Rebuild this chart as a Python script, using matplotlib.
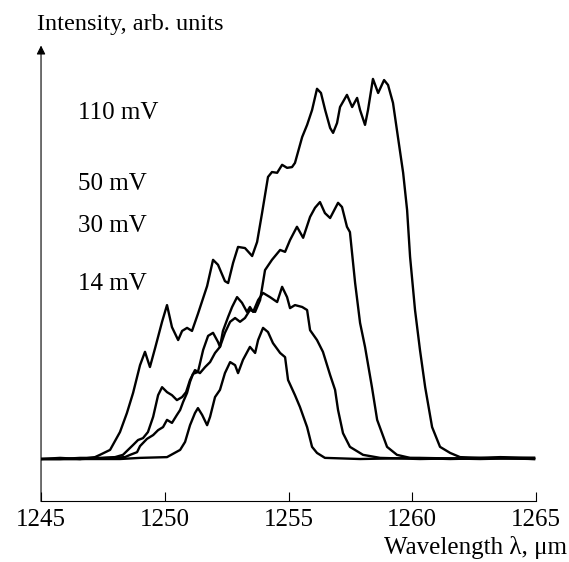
import matplotlib
matplotlib.use("Agg")
import matplotlib.pyplot as plt

plt.rcParams['font.family'] = ['Liberation Serif', 'DejaVu Serif']

# Wavelength (as labelled on axis) and intensity (arb. units) for each bias
wl_110 = [1245.00, 1245.77, 1246.58, 1247.18, 1247.38, 1247.79, 1248.19, 1248.47, 1248.72, 1249.00,
          1249.20, 1249.40, 1249.61, 1249.89, 1250.09, 1250.29, 1250.54, 1250.70, 1250.90, 1251.10,
          1251.34, 1251.71, 1251.95, 1252.15, 1252.43, 1252.56, 1252.76, 1252.96, 1253.24, 1253.53,
          1253.73, 1253.93, 1254.17, 1254.33, 1254.54, 1254.74, 1254.94, 1255.14, 1255.26, 1255.55,
          1255.75, 1255.95, 1256.15, 1256.31, 1256.48, 1256.68, 1256.80, 1256.96, 1257.08, 1257.36,
          1257.57, 1257.77, 1257.89, 1258.09, 1258.21, 1258.41, 1258.62, 1258.86, 1259.02, 1259.22,
          1259.42, 1259.63, 1259.79, 1259.91, 1260.11, 1260.31, 1260.52, 1260.80, 1261.12, 1261.53,
          1261.93, 1262.74, 1263.55, 1264.92]
int_110 = [0.0, 0.3, 0.0, 0.5, 1.1, 2.4, 7.1, 12.1, 17.4, 24.7,
           28.2, 24.2, 29.2, 36.1, 40.5, 34.7, 31.3, 33.7, 34.5, 33.7,
           38.2, 45.5, 52.4, 51.1, 46.8, 46.3, 51.6, 55.8, 55.5, 53.4,
           57.1, 64.7, 74.2, 75.5, 75.3, 77.4, 76.6, 76.8, 77.9, 84.7,
           87.9, 91.8, 97.4, 96.3, 91.8, 87.1, 85.8, 88.4, 92.6, 95.8,
           92.6, 95.0, 91.8, 87.9, 91.8, 100.0, 96.3, 99.7, 98.4, 93.7,
           84.7, 75.3, 65.5, 53.2, 39.2, 28.7, 18.9, 8.4, 3.2, 1.6,
           0.5, 0.3, 0.5, 0.3]

wl_50 = [1245.00, 1245.77, 1246.58, 1247.38, 1247.99, 1248.31, 1248.72, 1248.92, 1249.12, 1249.32,
         1249.53, 1249.73, 1249.89, 1250.09, 1250.29, 1250.49, 1250.70, 1250.86, 1251.02, 1251.22,
         1251.42, 1251.63, 1251.83, 1252.03, 1252.23, 1252.43, 1252.64, 1252.84, 1253.04, 1253.24,
         1253.44, 1253.65, 1253.85, 1254.05, 1254.33, 1254.66, 1254.86, 1255.06, 1255.34, 1255.59,
         1255.87, 1256.07, 1256.27, 1256.47, 1256.68, 1257.00, 1257.16, 1257.36, 1257.48, 1257.69,
         1257.89, 1258.09, 1258.37, 1258.58, 1258.98, 1259.38, 1259.91, 1261.53, 1263.55, 1264.92]
int_50 = [0.0, 0.0, 0.3, 0.3, 0.5, 1.1, 3.7, 5.0, 5.5, 7.1,
          11.1, 16.8, 18.9, 17.6, 16.8, 15.5, 16.3, 17.6, 20.8, 23.4,
          22.6, 24.2, 25.5, 27.9, 29.5, 33.2, 36.1, 37.1, 36.1, 37.1,
          39.2, 38.7, 41.8, 49.7, 52.4, 55.0, 54.5, 57.6, 61.1, 58.2,
          63.7, 66.1, 67.6, 64.7, 63.4, 67.4, 66.3, 61.1, 59.7, 46.3,
          35.8, 29.5, 18.9, 10.3, 3.2, 1.1, 0.3, 0.0, 0.3, 0.0]

wl_30 = [1245.00, 1246.58, 1247.79, 1248.39, 1248.60, 1248.88, 1249.00, 1249.28, 1249.53, 1249.73,
         1249.93, 1250.09, 1250.29, 1250.49, 1250.62, 1250.74, 1250.90, 1251.02, 1251.14, 1251.34,
         1251.55, 1251.75, 1251.95, 1252.15, 1252.23, 1252.35, 1252.56, 1252.72, 1252.92, 1253.12,
         1253.32, 1253.44, 1253.57, 1253.77, 1253.97, 1254.25, 1254.54, 1254.74, 1254.94, 1255.06,
         1255.26, 1255.55, 1255.75, 1255.87, 1256.15, 1256.39, 1256.68, 1256.88, 1257.00, 1257.20,
         1257.48, 1258.01, 1258.70, 1260.31, 1262.74, 1264.92]
int_30 = [0.0, 0.0, 0.3, 0.5, 1.1, 1.8, 3.4, 5.3, 6.3, 7.6,
          8.4, 10.3, 9.5, 11.6, 12.9, 15.0, 17.4, 20.3, 22.4, 22.9,
          28.7, 32.4, 33.2, 30.8, 29.5, 33.7, 37.4, 40.0, 42.6, 41.1,
          38.7, 40.0, 38.7, 41.8, 43.7, 42.6, 41.3, 45.3, 42.6, 39.7,
          40.5, 40.0, 39.2, 33.9, 31.3, 28.2, 22.1, 18.2, 12.9, 6.8,
          3.2, 1.1, 0.3, 0.0, 0.3, 0.0]

wl_14 = [1245.00, 1246.58, 1248.19, 1249.00, 1250.09, 1250.62, 1250.82, 1251.02, 1251.22, 1251.34,
         1251.51, 1251.71, 1251.83, 1252.03, 1252.23, 1252.43, 1252.64, 1252.84, 1252.96, 1253.16,
         1253.44, 1253.65, 1253.77, 1253.97, 1254.17, 1254.37, 1254.66, 1254.86, 1254.98, 1255.26,
         1255.46, 1255.75, 1255.95, 1256.15, 1256.47, 1257.89, 1260.31, 1262.74, 1264.92]
int_14 = [0.0, 0.0, 0.0, 0.3, 0.5, 2.4, 4.5, 8.9, 12.1, 13.4,
          11.6, 8.9, 11.1, 16.3, 18.2, 22.6, 25.5, 24.7, 22.6, 26.1,
          29.5, 27.9, 31.3, 34.5, 33.4, 30.5, 27.9, 26.8, 20.8, 16.8,
          13.7, 8.4, 3.2, 1.6, 0.3, 0.0, 0.3, 0.0, 0.3]

series_labels = ["110 mV", "50 mV", "30 mV", "14 mV"]
label_y = [91.0, 72.4, 61.3, 46.0]
x_ticks = [1245, 1250, 1255, 1260, 1265]

fig = plt.figure(figsize=(5.69, 5.62), dpi=100)
ax = fig.add_axes([0.0721, 0.1085, 0.8700, 0.8025])

for wl, inten in [(wl_110, int_110), (wl_50, int_50), (wl_30, int_30), (wl_14, int_14)]:
    ax.plot(wl, inten, color='black', lw=1.7, solid_joinstyle='round')

ax.set_xlim(1245, 1265)
ax.set_ylim(-11.05, 107.6)
ax.set_xticks(x_ticks)
ax.set_xticklabels([str(t) for t in x_ticks])
ax.set_yticks([])
ax.tick_params(axis='x', direction='in', length=6.5, width=0.8, labelsize=18, pad=6)
for s in ['top', 'right', 'left']:
    ax.spines[s].set_visible(False)
ax.spines['bottom'].set_linewidth(0.8)

ax.annotate('', xy=(0, 1.01), xytext=(0, -0.001), xycoords='axes fraction',
            arrowprops=dict(arrowstyle='-|>', lw=0.8, color='black',
                            mutation_scale=13, shrinkA=0, shrinkB=0))

for lab, yy in zip(series_labels, label_y):
    ax.text(1246.5, yy, lab, fontsize=18, ha='left', va='center')

fig.text(0.065, 0.956, "Intensity, arb. units", fontsize=17.5, ha='left', va='center')
fig.text(0.9965, 0.025, "Wavelength λ, μm", fontsize=18, ha='right', va='center')

fig.savefig("out.png", dpi=100)
